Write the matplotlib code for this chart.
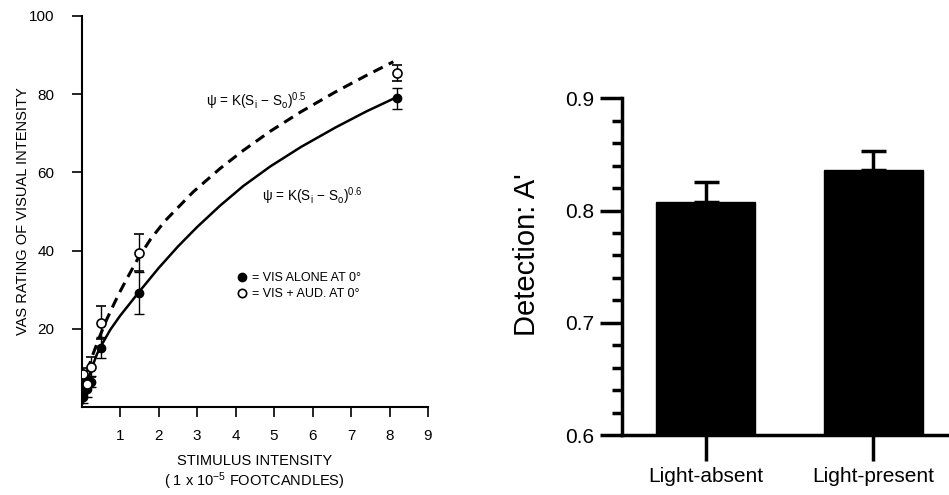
import numpy as np
import matplotlib
matplotlib.use("Agg")
import matplotlib.pyplot as plt
from matplotlib.lines import Line2D

plt.rcParams['font.family'] = ['Liberation Sans', 'DejaVu Sans']
plt.rcParams['mathtext.fontset'] = 'custom'
plt.rcParams['mathtext.rm'] = 'Liberation Sans'
plt.rcParams['mathtext.it'] = 'Liberation Sans:italic'

# ---- left panel: VAS ratings vs stimulus intensity ----
vis_x   = [0.05, 0.15, 0.25, 0.5, 1.5, 8.2]
vis_y   = [2.5, 4.5, 6.5, 15.2, 29.2, 79.0]
vis_err = [1.5, 2.0, 1.5, 2.7, 5.3, 2.7]

aud_x   = [0.05, 0.15, 0.25, 0.5, 1.5, 8.2]
aud_y   = [8.5, 6.0, 10.2, 21.6, 39.5, 85.5]
aud_err = [1.5, 1.5, 2.5, 4.3, 4.8, 2.0]

# fitted curves
fit06_x = [0.03, 0.1, 0.25, 0.4, 0.5, 0.75, 1.0, 1.5, 2.0, 2.5, 3.0,
           3.6, 4.2, 4.9, 5.7, 6.6, 7.4, 8.2]
fit06_y = [1.0, 4.5, 9.5, 13.5, 15.5, 19.8, 23.3, 29.5, 35.5, 41.0, 46.0,
           51.5, 56.5, 61.5, 66.5, 71.5, 75.6, 79.3]
fit05_x = [0.02, 0.26, 0.45, 0.65, 0.85, 1.0, 1.2, 1.48, 1.8, 2.17, 2.9,
           3.6, 4.2, 4.9, 5.7, 6.6, 7.4, 8.1]
fit05_y = [5.0, 12.5, 17.5, 22.3, 26.5, 29.5, 33.2, 38.2, 43.0, 47.6, 55.0,
           61.0, 65.6, 70.5, 75.5, 80.6, 84.8, 88.3]

# ---- right panel: detection A' ----
conditions = ["Light-absent", "Light-present"]
detection  = [0.808, 0.836]
det_err    = [0.017, 0.017]

fig = plt.figure(figsize=(9.49, 4.95), dpi=100)

# left
ax1 = fig.add_axes([0.0859, 0.1778, 0.3651, 0.7899])
ax1.plot(fit06_x, fit06_y, color="black", lw=1.8)
ax1.plot(fit05_x, fit05_y, color="black", lw=2.2, dashes=(3.4, 2.2))
ax1.errorbar(vis_x, vis_y, yerr=vis_err, fmt="o", color="black",
             ms=6, mfc="black", mec="black", ecolor="black",
             elinewidth=1.0, capsize=3.5, capthick=1.0, zorder=3)
ax1.errorbar(aud_x, aud_y, yerr=aud_err, fmt="o", color="black",
             ms=6.5, mfc="white", mec="black", mew=1.2, ecolor="black",
             elinewidth=1.0, capsize=3.5, capthick=1.0, zorder=4)

ax1.set_xlim(0, 9)
ax1.set_ylim(0, 100)
ax1.set_xticks(range(1, 10))
ax1.set_yticks([20, 40, 60, 80, 100])
ax1.spines["top"].set_visible(False)
ax1.spines["right"].set_visible(False)
for s in ("left", "bottom"):
    ax1.spines[s].set_linewidth(1.5)
ax1.tick_params(direction="out", length=7.5, width=1.2, labelsize=11)
ax1.tick_params(axis="x", pad=8)
ax1.tick_params(axis="y", pad=12)
ax1.set_ylabel("VAS RATING OF VISUAL INTENSITY", fontsize=10.5)
ax1.yaxis.set_label_coords(-0.15, 0.5)
ax1.set_xlabel("STIMULUS INTENSITY\n( 1 x 10$^{\\mathregular{-5}}$ FOOTCANDLES)",
               fontsize=10.5, labelpad=8, linespacing=1.2)

ax1.text(0.36, 0.782, "ψ = K(S$_\\mathregular{i}$ − S$_\\mathregular{o}$)$^\\mathregular{0.5}$",
         transform=ax1.transAxes, fontsize=9.8, va="center")
ax1.text(0.52, 0.54, "ψ = K(S$_\\mathregular{i}$ − S$_\\mathregular{o}$)$^\\mathregular{0.6}$",
         transform=ax1.transAxes, fontsize=9.8, va="center")

handles = [Line2D([], [], ls="none", marker="o", ms=6, mfc="black", mec="black"),
           Line2D([], [], ls="none", marker="o", ms=6, mfc="white", mec="black", mew=1.2)]
ax1.legend(handles, ["= VIS ALONE AT 0°", "= VIS + AUD. AT 0°"],
           loc="upper left", bbox_to_anchor=(0.448, 0.345), frameon=False,
           fontsize=9, handlelength=0.9, handletextpad=0.35,
           labelspacing=0.35, borderpad=0, borderaxespad=0)

# right
ax2 = fig.add_axes([0.6551, 0.1212, 0.3449, 0.6802])
xpos = np.arange(len(conditions))
ax2.bar(xpos, detection, width=0.59, color="black", edgecolor="black", zorder=2)
ax2.errorbar(xpos, detection, yerr=[[0, 0], det_err], fmt="none",
             ecolor="black", elinewidth=2.5, capsize=9, capthick=2.5, zorder=1)
ax2.set_xlim(-0.5, 1.45)
ax2.set_ylim(0.6, 0.9)
ax2.set_yticks([0.6, 0.7, 0.8, 0.9])
ax2.set_yticks(np.arange(0.62, 0.9, 0.02), minor=True)
ax2.set_xticks(xpos)
ax2.set_xticklabels(conditions)
ax2.spines["top"].set_visible(False)
ax2.spines["right"].set_visible(False)
for s in ("left", "bottom"):
    ax2.spines[s].set_linewidth(2.5)
ax2.tick_params(axis="y", which="major", length=16, width=2.5, labelsize=15, pad=4)
ax2.tick_params(axis="y", which="minor", length=7, width=2.5)
ax2.tick_params(axis="x", length=19, width=2.5, labelsize=15, pad=4)
ax2.set_ylabel("Detection: A'", fontsize=21)
ax2.yaxis.set_label_coords(-0.247, 0.535)

plt.savefig("out.png", dpi=100)
